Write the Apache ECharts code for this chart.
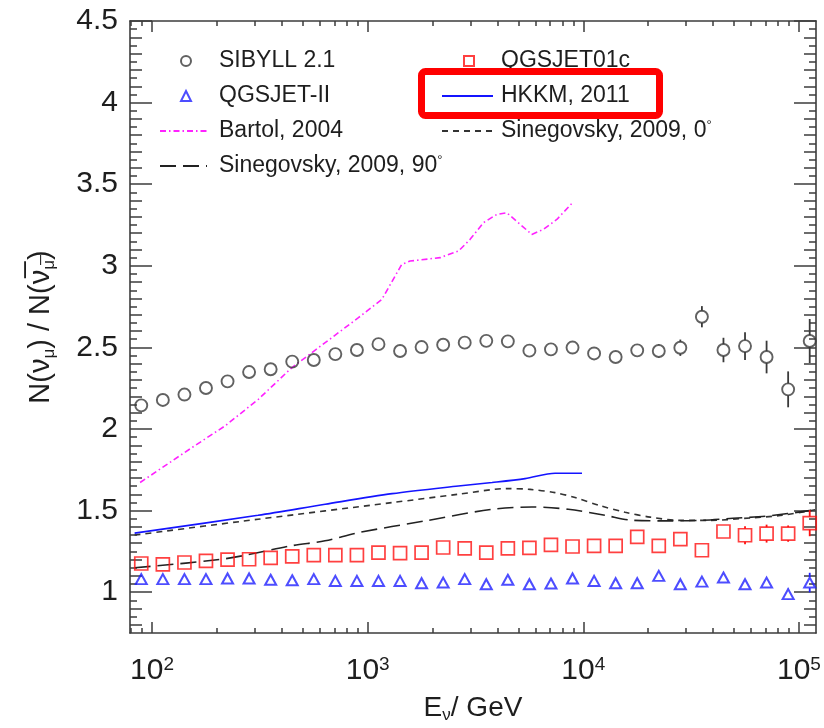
<!DOCTYPE html>
<html>
<head>
<meta charset="utf-8">
<title>Muon neutrino / antineutrino ratio</title>
<script src="https://cdn.jsdelivr.net/npm/echarts@6/dist/echarts.min.js"></script>
<style>
  html, body { margin: 0; padding: 0; background: #fff; }
  #chart { width: 824px; height: 728px; }
</style>
</head>
<body>
<div id="chart"></div>
<script>
// Bin centres of the simulated spectra (GeV)
const energy = [89.1, 112.2, 141.3, 177.8, 223.9, 281.8, 354.8, 446.7, 562.3, 707.9,
  891.3, 1122, 1413, 1778, 2239, 2818, 3548, 4467, 5623, 7079,
  8913, 11220, 14125, 17783, 22387, 28184, 35481, 44668, 56234, 70795,
  89125, 112202];

// SIBYLL 2.1 ratio and statistical errors
const sibyll = [2.145, 2.178, 2.211, 2.251, 2.292, 2.349, 2.366, 2.413, 2.423, 2.459,
  2.484, 2.520, 2.478, 2.502, 2.516, 2.529, 2.540, 2.537, 2.480, 2.488,
  2.499, 2.463, 2.441, 2.482, 2.478, 2.498, 2.688, 2.484, 2.508, 2.441,
  2.243, 2.539];
const sibyllErr = [0.01, 0.01, 0.01, 0.01, 0.01, 0.01, 0.01, 0.01, 0.01, 0.01,
  0.01, 0.012, 0.012, 0.012, 0.013, 0.014, 0.015, 0.016, 0.018, 0.02,
  0.022, 0.025, 0.028, 0.03, 0.04, 0.05, 0.065, 0.075, 0.085, 0.1,
  0.11, 0.135];

// QGSJET01c ratio and errors
const qgsjet01c = [1.176, 1.171, 1.182, 1.192, 1.200, 1.202, 1.210, 1.219, 1.227, 1.227,
  1.227, 1.243, 1.239, 1.243, 1.274, 1.269, 1.243, 1.268, 1.272, 1.290,
  1.280, 1.284, 1.284, 1.339, 1.284, 1.325, 1.257, 1.372, 1.349, 1.359,
  1.359, 1.423];
const qgsjet01cErr = [0.005, 0.005, 0.005, 0.005, 0.005, 0.005, 0.005, 0.005, 0.005, 0.005,
  0.005, 0.006, 0.006, 0.006, 0.007, 0.007, 0.008, 0.008, 0.009, 0.01,
  0.011, 0.012, 0.014, 0.016, 0.018, 0.02, 0.025, 0.03, 0.055, 0.055,
  0.05, 0.08];

// QGSJET-II ratio and errors
const qgsjetII = [1.080, 1.080, 1.080, 1.080, 1.084, 1.084, 1.076, 1.073, 1.080, 1.069,
  1.069, 1.069, 1.069, 1.055, 1.059, 1.080, 1.049, 1.076, 1.049, 1.053,
  1.084, 1.069, 1.055, 1.055, 1.100, 1.049, 1.065, 1.090, 1.049, 1.059,
  0.988, 1.059];
const qgsjetIIErr = [0.004, 0.004, 0.004, 0.004, 0.004, 0.004, 0.004, 0.004, 0.004, 0.004,
  0.004, 0.004, 0.005, 0.005, 0.005, 0.005, 0.006, 0.006, 0.007, 0.007,
  0.008, 0.009, 0.01, 0.011, 0.012, 0.014, 0.016, 0.018, 0.02, 0.025,
  0.035, 0.06];

// Calculated fluxes
const hkkmE = [83, 310, 635, 1298, 2634, 3776, 5370, 7400, 9860];
const hkkm  = [1.362, 1.471, 1.539, 1.604, 1.651, 1.672, 1.696, 1.729, 1.729];

const bartolE = [88, 153, 218, 311, 445, 635, 906, 1163, 1439, 1573,
  2167, 2634, 2985, 3441, 3971, 4418, 5769, 6530, 7537, 8845];
const bartol  = [1.672, 1.886, 2.019, 2.182, 2.376, 2.529, 2.682, 2.794, 3.009, 3.029,
  3.050, 3.090, 3.162, 3.264, 3.315, 3.325, 3.192, 3.223, 3.284, 3.382];

const sine0E = [83, 310, 1298, 2630, 4470, 5660, 7400, 9160, 11970, 15630,
  20420, 28140, 38770, 59380, 81880, 118900];
const sine0  = [1.350, 1.447, 1.549, 1.600, 1.635, 1.630, 1.610, 1.580, 1.530, 1.490,
  1.460, 1.440, 1.440, 1.455, 1.470, 1.505];

const sine90E = [83, 218, 445, 634, 906, 1850, 3770, 5770, 8510, 12600,
  16800, 24430, 34700, 49400, 71000, 118900];
const sine90  = [1.150, 1.205, 1.285, 1.315, 1.365, 1.437, 1.508, 1.522, 1.508, 1.471,
  1.441, 1.437, 1.440, 1.453, 1.466, 1.505];

// Axis ticks and labels
const xDecades = [100, 1000, 10000, 100000];
const yTickValues = [1, 1.5, 2, 2.5, 3, 3.5, 4, 4.5];
const yTickLabels = ['1', '1.5', '2', '2.5', '3', '3.5', '4', '4.5'];

const X_MIN = 79, X_MAX = 120000;
const Y_MIN = 0.75, Y_MAX = 4.5;

// minor tick positions: 2..9 times each decade, plus 80 and 90 below 10^2
const xMinor = [80, 90];
[100, 1000, 10000].forEach(d => { for (let k = 2; k <= 9; k++) xMinor.push(k * d); });
const yFine = [], yMid = [];
for (let i = 16; i < 90; i++) {
  const v = Math.round(i * 5) / 100;
  if (i % 10 === 0) continue;
  if (i % 2 === 0) yMid.push(v); else yFine.push(v);
}

const FONT = 'Liberation Sans, Arial, Helvetica, sans-serif';
const TXT = '#1e1e1e';
const FRAME = '#3c3c3c';

function zip(xs, ys) { return xs.map((x, i) => [x, ys[i]]); }
function zip3(xs, ys, es) { return xs.map((x, i) => [x, ys[i], es[i]]); }

// vertical error bars, leaving the marker interior empty
function errorBars(color, gap) {
  return function (params, api) {
    const x = api.value(0), y = api.value(1), e = api.value(2);
    const c = api.coord([x, y]);
    const hi = api.coord([x, y + e]);
    const lo = api.coord([x, y - e]);
    const children = [];
    const st = { stroke: color, lineWidth: 1.8 };
    if (c[1] - hi[1] > gap) {
      children.push({ type: 'line', shape: { x1: c[0], y1: hi[1], x2: c[0], y2: c[1] - gap }, style: st });
    }
    if (lo[1] - c[1] > gap) {
      children.push({ type: 'line', shape: { x1: c[0], y1: c[1] + gap, x2: c[0], y2: lo[1] }, style: st });
    }
    return { type: 'group', children: children };
  };
}

function xAxisDef(position, ticks, len, opts) {
  return Object.assign({
    type: 'log', position: position, min: X_MIN, max: X_MAX, logBase: 10,
    axisLine: { show: false },
    axisTick: { show: true, inside: true, length: len, customValues: ticks,
      lineStyle: { color: FRAME, width: 1.5 } },
    axisLabel: { show: false },
    splitLine: { show: false },
    minorTick: { show: false },
    minorSplitLine: { show: false }
  }, opts || {});
}
function yAxisDef(position, ticks, len, opts) {
  return Object.assign({
    type: 'value', position: position, min: Y_MIN, max: Y_MAX,
    axisLine: { show: false },
    axisTick: { show: true, inside: true, length: len, customValues: ticks,
      lineStyle: { color: FRAME, width: 1.5 } },
    axisLabel: { show: false },
    splitLine: { show: false },
    minorTick: { show: false }
  }, opts || {});
}

const frameLine = { show: true, onZero: false, lineStyle: { color: FRAME, width: 1.6 } };

// legend blocks: marker entries and curve entries, two columns
const ROW = 35, LEGEND_TOP = 44;
function legendText(padLeft) {
  return {
    fontSize: 23, lineHeight: 24, color: TXT, fontFamily: FONT, padding: [0, 0, 0, padLeft],
    rich: {
      t: { fontSize: 23, lineHeight: 24, color: TXT, fontFamily: FONT },
      d: { fontSize: 13, lineHeight: 13, verticalAlign: 'top', color: TXT, fontFamily: FONT }
    }
  };
}
const degFormatter = n => n.endsWith('°') ? '{t|' + n.slice(0, -1) + '}{d|°}' : n;
function legendBlock(names, left, row, iconW, padLeft) {
  return {
    data: names,
    orient: 'vertical', left: left, top: LEGEND_TOP + row * ROW,
    itemWidth: iconW, itemHeight: 10, itemGap: ROW - 24,
    selectedMode: false,
    textStyle: legendText(padLeft),
    formatter: degFormatter
  };
}
const noDot = { opacity: 0 };

const chart = echarts.init(document.getElementById('chart'), null, { renderer: 'canvas' });

chart.setOption({
  animation: false,
  backgroundColor: '#fff',
  textStyle: { fontFamily: FONT },
  grid: { left: 130, right: 8, top: 21, bottom: 95, containLabel: false, outerBoundsMode: 'none' },
  xAxis: [
    xAxisDef('bottom', xDecades, 11, {
      axisLine: frameLine,
      axisLabel: {
        show: true, customValues: xDecades, margin: 22,
        formatter: v => '{b|10}{e|' + Math.round(Math.log10(v)) + '}',
        rich: {
          b: { fontSize: 30, lineHeight: 32, color: TXT, fontFamily: FONT },
          e: { fontSize: 19, lineHeight: 19, verticalAlign: 'top', color: TXT, fontFamily: FONT }
        }
      },
      name: '{t|E}{s|ν}{t|/ GeV}',
      nameLocation: 'middle',
      nameGap: 59,
      nameTextStyle: {
        rich: {
          t: { fontSize: 28, lineHeight: 32, color: TXT, fontFamily: FONT },
          s: { fontSize: 17, lineHeight: 17, verticalAlign: 'bottom', color: TXT, fontFamily: FONT }
        }
      }
    }),
    xAxisDef('bottom', xMinor, 5),
    xAxisDef('top', xDecades, 11, { axisLine: frameLine }),
    xAxisDef('top', xMinor, 5)
  ],
  yAxis: [
    yAxisDef('left', yTickValues, 22, {
      axisLine: frameLine,
      axisLabel: {
        show: true, customValues: yTickValues, margin: 12,
        fontSize: 30, color: TXT, fontFamily: FONT, padding: [6, 0, 0, 0],
        formatter: v => yTickLabels[yTickValues.indexOf(Math.round(v * 100) / 100)]
      },
      name: '{t|N(ν}{s|μ}{t|) / N(ν̅}{s|μ̅}{t|)}',
      nameLocation: 'middle',
      nameRotate: 90,
      nameGap: 72,
      nameTextStyle: {
        rich: {
          t: { fontSize: 29, lineHeight: 34, color: TXT, fontFamily: FONT },
          s: { fontSize: 17, lineHeight: 17, verticalAlign: 'bottom', color: TXT, fontFamily: FONT }
        }
      }
    }),
    yAxisDef('left', yMid, 12),
    yAxisDef('left', yFine, 7),
    yAxisDef('right', yTickValues, 22, { axisLine: frameLine }),
    yAxisDef('right', yMid, 12),
    yAxisDef('right', yFine, 7)
  ],
  legend: [
    legendBlock(['SIBYLL 2.1', 'QGSJET-II'], 175, 0, 10, 23),
    legendBlock([
      { name: 'Bartol, 2004', itemStyle: noDot },
      { name: 'Sinegovsky, 2009, 90°', itemStyle: noDot }
    ], 154, 2, 47, 7),
    legendBlock(['QGSJET01c'], 458, 0, 10, 22),
    legendBlock([
      { name: 'HKKM, 2011', itemStyle: noDot },
      { name: 'Sinegovsky, 2009, 0°', itemStyle: noDot }
    ], 436, 1, 51, 3)
  ],
  graphic: [
    {
      type: 'rect', z: 100,
      shape: { x: 421.5, y: 71.5, width: 238, height: 44, r: 4 },
      style: { fill: 'none', stroke: '#ff0000', lineWidth: 7 }
    }
  ],
  series: [
    {
      name: 'Bartol, 2004', type: 'line', data: zip(bartolE, bartol),
      symbol: 'none', showSymbol: false, z: 2,
      lineStyle: { color: '#ff22ff', width: 1.6, type: [6, 3, 1.5, 3] },
      itemStyle: { color: '#ff22ff' }
    },
    {
      name: 'HKKM, 2011', type: 'line', data: zip(hkkmE, hkkm),
      symbol: 'none', showSymbol: false, smooth: 0.3, z: 2,
      lineStyle: { color: '#1414ff', width: 1.6 },
      itemStyle: { color: '#1414ff' }
    },
    {
      name: 'Sinegovsky, 2009, 0°', type: 'line', data: zip(sine0E, sine0),
      symbol: 'none', showSymbol: false, smooth: 0.3, z: 2,
      lineStyle: { color: '#333', width: 1.6, type: [6, 5] },
      itemStyle: { color: '#333' }
    },
    {
      name: 'Sinegovsky, 2009, 90°', type: 'line', data: zip(sine90E, sine90),
      symbol: 'none', showSymbol: false, smooth: 0.3, z: 2,
      lineStyle: { color: '#222', width: 1.6, type: [16, 7] },
      itemStyle: { color: '#222' }
    },
    {
      name: 'SIBYLL 2.1', type: 'scatter', data: zip(energy, sibyll),
      symbol: 'circle', symbolSize: 12, z: 4,
      itemStyle: { color: 'rgba(0,0,0,0)', borderColor: '#3a3a3a', borderWidth: 1.9 }
    },
    {
      name: 'QGSJET01c', type: 'scatter', data: zip(energy, qgsjet01c),
      symbol: 'rect', symbolSize: 13, z: 4,
      itemStyle: { color: 'rgba(0,0,0,0)', borderColor: '#ff1010', borderWidth: 1.7 }
    },
    {
      name: 'QGSJET-II', type: 'scatter', data: zip(energy, qgsjetII),
      symbol: 'triangle', symbolSize: [11, 10], z: 4,
      itemStyle: { color: 'rgba(0,0,0,0)', borderColor: '#2020ff', borderWidth: 2 }
    },
    {
      type: 'custom', name: 'sibyllErr', data: zip3(energy, sibyll, sibyllErr),
      dimensions: ['x', 'y', 'err'], encode: { x: 0, y: 1 }, z: 3,
      renderItem: errorBars('#3a3a3a', 6)
    },
    {
      type: 'custom', name: 'qgsjet01cErr', data: zip3(energy, qgsjet01c, qgsjet01cErr),
      dimensions: ['x', 'y', 'err'], encode: { x: 0, y: 1 }, z: 3,
      renderItem: errorBars('#ff1010', 6.5)
    },
    {
      type: 'custom', name: 'qgsjetIIErr', data: zip3(energy, qgsjetII, qgsjetIIErr),
      dimensions: ['x', 'y', 'err'], encode: { x: 0, y: 1 }, z: 3,
      renderItem: errorBars('#2020ff', 5.5)
    }
  ]
});
</script>
</body>
</html>
